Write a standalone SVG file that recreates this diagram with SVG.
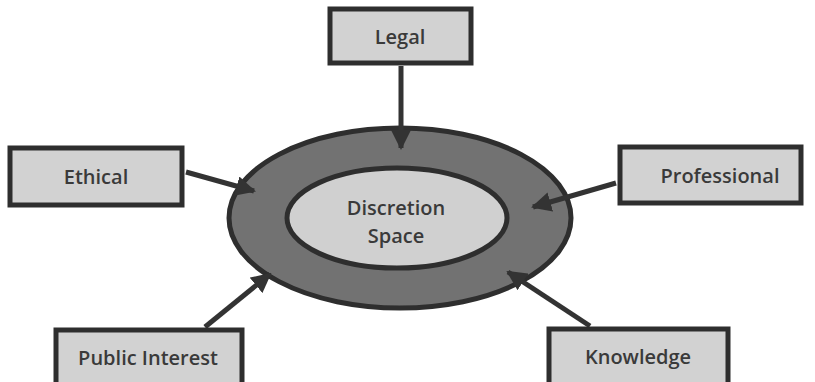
<svg xmlns="http://www.w3.org/2000/svg" width="815" height="382" viewBox="0 0 815 382">
<style>
.box{fill:#d2d2d2;stroke:#2e2e2e;stroke-width:5}
.lbl{font-family:"Open Sans","Noto Sans",sans-serif;font-size:20px;font-weight:600;fill:#3a3a3a;text-anchor:middle}
.conn{stroke:#333;stroke-width:5;fill:none;marker-end:url(#ah)}
</style>
<defs>
<marker id="ah" viewBox="0 0 10 10" refX="9" refY="5" markerWidth="4" markerHeight="4" orient="auto" markerUnits="strokeWidth">
<path d="M0,0 L10,5 L0,10 z" fill="#333"/>
</marker>
</defs>
<rect width="815" height="382" fill="#fff"/>
<g id="discretion">
<ellipse cx="400" cy="218" rx="171" ry="90" fill="#727272" stroke="#2e2e2e" stroke-width="5"/>
<ellipse cx="397" cy="218" rx="110" ry="50" fill="#d0d0d0" stroke="#2e2e2e" stroke-width="5"/>
<text class="lbl" x="396" y="215">Discretion</text>
<text class="lbl" x="396" y="243">Space</text>
</g>
<g id="connectors">
<line class="conn" x1="401" y1="66" x2="401" y2="148"/>
<line class="conn" x1="186" y1="172" x2="254" y2="191"/>
<line class="conn" x1="616" y1="183" x2="533" y2="207"/>
<line class="conn" x1="205" y1="327" x2="270" y2="274"/>
<line class="conn" x1="590" y1="326" x2="508" y2="272"/>
</g>
<g id="legal">
<rect class="box" x="330" y="9" width="141" height="54"/>
<text class="lbl" x="400" y="44">Legal</text>
</g>
<g id="ethical">
<rect class="box" x="10" y="148" width="172" height="57"/>
<text class="lbl" x="96" y="184">Ethical</text>
</g>
<g id="professional">
<rect class="box" x="620" y="147" width="181" height="56"/>
<text class="lbl" x="720" y="183">Professional</text>
</g>
<g id="public-interest">
<rect class="box" x="56" y="330" width="186" height="60"/>
<text class="lbl" x="148" y="365">Public Interest</text>
</g>
<g id="knowledge">
<rect class="box" x="549" y="329" width="179" height="60"/>
<text class="lbl" x="638" y="364">Knowledge</text>
</g>
</svg>
